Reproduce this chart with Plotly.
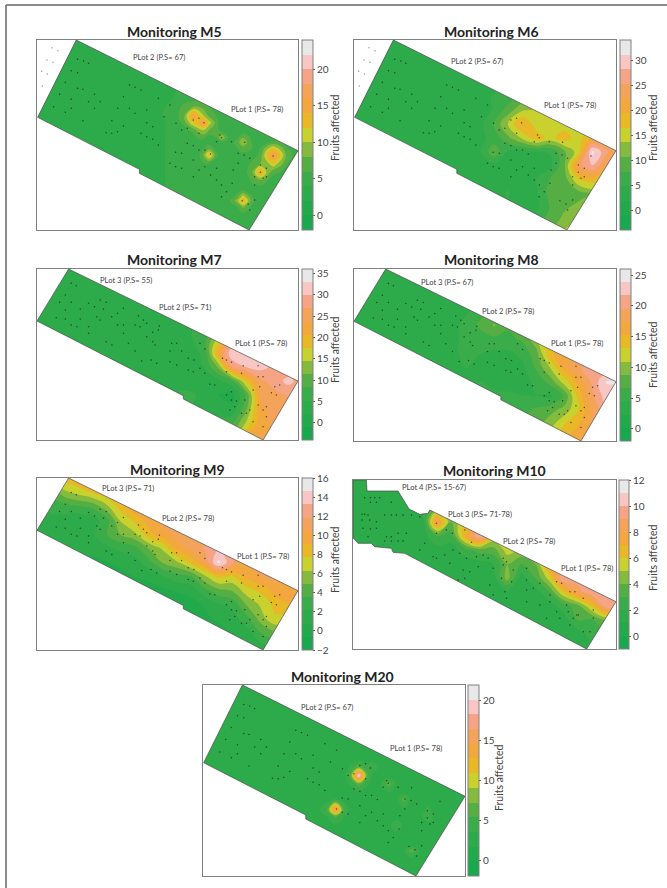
import plotly.graph_objects as go

BAND_COLORS = ["#18a84e","#22a94c","#2dab4b","#3aac4a","#55ae43","#84ba3d","#c9d12f",
               "#e9b826","#f2a83e","#f4a35a","#f5a585","#f8c6c3","#e8e8e8"]

# field outlines
A_OUT_X = [228,895,748,418,418,112,228]
A_OUT_Y = [120,452,690,520,508,352,120]
B_OUT_X = [205,895,790,550,550,110,205]
B_OUT_Y = [72,408,585,462,452,228,72]
C_OUT_X = [70,110,112,205,238,270,295,300,858,770,225,190,185,135,125,85,72,70,70]
C_OUT_Y = [75,75,108,108,162,178,175,165,440,582,295,292,280,275,265,265,250,250,75]

# trees
A_TREE_X = [232,250,265,213,232,195,232,248,178,213,265,195,160,213,248,283,300,283,335,353,370,388,388,405,423,405,370,440,458,475,440,510,492,528,562,597,545,580,597,612,665,650,440,458,423,475,352,335,318,527,545,580,562,615,632,597,510,527,545,580,580,597,615,650,632,650,665,680,665,697,700,715,715,750,733,735,782,800,765,782,765,800,727,745,765,820,790,695,660,750]
A_TREE_Y = [178,183,190,212,218,247,265,268,283,298,305,337,320,325,362,325,305,283,362,325,290,325,255,262,270,340,378,368,380,295,330,315,350,370,385,400,390,360,355,368,413,425,410,418,400,435,395,400,398,457,460,437,430,450,462,450,490,500,505,480,530,510,500,505,525,540,555,575,590,550,510,490,460,475,465,427,495,505,530,517,555,530,602,612,600,468,535,425,405,630]
A_FAINT_X = [155,173,140,158,124,141,126]
A_FAINT_Y = [143,152,180,187,214,222,258]
B_TREE_X = [213,228,195,178,213,265,318,300,283,195,240,310,370,352,168,195,240,213,230,265,265,290,300,335,352,370,405,420,415,430,440,478,370,318,335,440,458,475,385,405,458,465,515,530,510,545,600,615,565,582,510,530,425,453,470,600,565,580,615,668,680,695,680,730,775,725,775,790,840,825,815,830,780,760,645,630,695,680,695,710,735,705,690,750,725,740,775,790,800,800,790,760]
B_TREE_Y = [115,122,150,172,172,175,172,165,185,195,192,192,190,205,218,222,222,240,245,265,245,215,225,215,240,240,240,245,212,225,235,243,265,290,300,275,262,255,295,318,290,300,295,295,318,318,295,312,340,345,350,360,348,345,355,370,375,380,385,340,345,352,380,362,362,385,395,395,420,425,443,450,425,435,420,418,440,450,465,468,465,485,495,495,505,505,480,495,485,515,545,530]
C_TREE_X = [105,122,135,150,122,140,185,97,105,115,165,185,200,220,245,270,97,120,140,100,122,140,115,170,185,205,230,165,185,205,220,320,320,285,270,350,368,405,425,370,390,310,320,410,440,460,475,520,530,520,550,400,420,445,490,480,515,525,545,590,590,590,610,590,630,680,695,720,735,660,660,680,710,715,760,790,740,730,745,690,720,760,780,790,630,650,490,530,405,385,360,345]
C_TREE_Y = [128,128,128,128,142,142,142,178,178,180,180,180,180,180,180,185,195,195,200,220,222,220,245,245,245,235,235,258,258,258,258,205,235,265,285,225,235,225,262,285,295,305,310,310,305,300,310,310,320,330,345,345,350,335,340,390,370,410,380,340,375,405,400,440,385,380,385,410,410,420,440,470,450,470,430,465,480,490,480,490,510,530,530,490,450,490,420,430,370,375,325,300]

# value grids
M5_X = [110,230,350,470,520,550,580,596,612,628,650,665,690,712,730,758,782,800,820,842,865,902]
M5_Y = [120,210,290,320,348,368,390,413,427,445,465,490,517,540,570,590,602,620,650,690]
M5_Z = [
[3,3,3,3.5,4,4,4,4,4,4,4,4,4,4,4,4,4,4,4,4,4,4],
[3,3,3,3.5,4,4,4,4,4,4,4,4,4,4,4,4,4,4,4,4,4,4],
[3,3,3,3.5,4,4.5,4.5,4.5,4.5,4.5,4.5,4.5,4.5,4.5,4.5,4.5,4.5,4.5,4.5,4.5,4.5,4.5],
[3,3,3,3.5,4.5,6.5,8,8,7,6,4.5,4.5,4.5,4.5,4.5,4.5,4.5,4.5,4.5,4.5,4.5,4.5],
[3,3,3,3.5,5,7,16,13,10,7.5,6,4.5,4.5,4.5,4.5,4.5,4.5,4.5,4.5,4.5,4.5,4.5],
[3,3,3,3.5,4.5,6.5,12,14,17,11,7,4.5,4.5,4.5,4.5,4.5,4.5,4.5,4.5,4.5,4.5,4.5],
[3,3,3,3.5,4.5,5,7,9,10,8,6.5,5,4.5,4.5,4.5,4.5,4.5,4.5,4.5,4.5,4.5,4.5],
[3,3,3,3.5,4.5,4.5,5,6.5,6.5,5,6,10,5,5.5,8,5.5,4.5,4.5,4.5,4.5,4.5,4.5],
[3,3,3,3.5,4.5,4.5,4.5,5,5,5,4.5,5.5,4.5,7,10,5.5,5,5,6.5,6,5,5],
[3,3,3,3.5,4.5,4.5,4.5,5,6,7.5,5,4.5,4.5,6,7,6,6,9,12,9,6,5],
[3,3,3,3.5,4.5,4.5,4.5,5.5,8.5,13,6.5,4.5,4.5,4.5,5.5,5,6.5,12,17,12,6.5,5],
[3,3,3,3.5,4.5,4.5,4.5,4.5,6,6,5,4.5,4.5,4.5,4.5,6.5,8,9,12,9,6,5],
[3,3,3,3.5,4.5,4.5,4.5,4.5,4.5,4.5,4.5,4.5,4.5,4.5,4.5,8,15,10,6.5,6,5,4.5],
[3,3,3,3.5,4.5,4.5,4.5,4.5,4.5,4.5,4.5,4.5,4.5,4.5,4.5,6.5,8,6.5,5,4.5,4.5,4.5],
[3,3,3,3.5,4.5,4.5,4.5,4.5,4.5,4.5,4.5,4.5,4.5,5,6,5,4.5,4.5,4.5,4.5,4.5,4.5],
[3,3,3,3.5,4.5,4.5,4.5,4.5,4.5,4.5,4.5,4.5,4.5,7,11,6,4.5,4.5,4.5,4.5,4.5,4.5],
[3,3,3,3.5,4.5,4.5,4.5,4.5,4.5,4.5,4.5,4.5,6,9,14,6.5,4.5,4.5,4.5,4.5,4.5,4.5],
[3,3,3,3.5,4.5,4.5,4.5,4.5,4.5,4.5,4.5,4.5,4.5,6,8.5,5.5,4.5,4.5,4.5,4.5,4.5,4.5],
[3,3,3,3.5,4.5,4.5,4.5,4.5,4.5,4.5,4.5,4.5,4.5,4.5,4.5,4.5,4.5,4.5,4.5,4.5,4.5,4.5],
[3,3,3,3.5,4.5,4.5,4.5,4.5,4.5,4.5,4.5,4.5,4.5,4.5,4.5,4.5,4.5,4.5,4.5,4.5,4.5,4.5],
]

M6_X = [110,152,194,236,278,320,362,404,446,488,530,572,614,656,698,740,782,824,866,908]
M6_Y = [120,162,204,246,288,330,372,414,456,498,540,582,624,666,708]
M6_Z = [
[3,3,3,3,3,3,3,3,3,3,3,3,3,3,3,3,3,3,3,3],
[3,3,3,3,3,3,3,3,3,3,3,3,3,3,3,3,3,3,3,3],
[3,3,3,3,3.5,3.5,3.5,3.5,3.5,3.5,3.5,4,4,4,4,4,4,4,4,4],
[3,3,3,3,3.5,3.5,4,4,4,4,4,5,6,6,6,6,6,6,6,6],
[3,3,3,3,4,4,4,4,4,4,5,6,8,10,10,10,10,10,10,10],
[3,3,3,3,4,4,4,4,4,4,5,9,13,14,14,14,14,14,14,14],
[3,3,3,3,3.5,3.5,4,4,4,4,8,14,20,15,15,15,15,15,15,15],
[3,3,3,3,3.5,3.5,4,4,4,4,6,10,14,18,15.5,18,15,20,20,20],
[3,3,3,3,3.5,3.5,4,4,4,4.5,10,4,4,4.5,5,10,15,32,26,20],
[3,3,3,3,3.5,3.5,3.5,3.5,3.5,4,3.5,3,3,3,4,10,24,28,22,20],
[3,3,3,3,3.5,3.5,3.5,3.5,3.5,4,4,4,3,5,8,9,16,18,15,15],
[3,3,3,3,3.5,3.5,3.5,3.5,3.5,4,4,5,3.5,4,9,10,9,11,11,11],
[3,3,3,3,3.5,3.5,3.5,3.5,3.5,4,4,4,4,4,8,10,12,13,13,13],
[3,3,3,3,3.5,3.5,3.5,3.5,3.5,4,4,4,5,7,9,12,14,14,14,14],
[3,3,3,3,3.5,3.5,3.5,3.5,3.5,4,4,5,7,10,13,15,15,15,15,15],
]

B_X = [110,152,194,236,278,320,362,404,446,488,530,572,614,656,698,740,782,824,866,908]
B_Y = [72,114,156,198,240,282,324,366,408,450,492,534,576,618]
M7_Z = [
[3.5,3.5,3.5,3.5,3.5,3.5,3.5,3.5,3.5,3.5,3.5,3.5,3.5,3.5,3.5,3.5,3.5,3.5,3.5,3.5],
[3.5,3.5,3.5,3.5,3.5,3.5,3.5,3.5,3.5,3.5,3.5,3.5,3.5,3.5,3.5,3.5,3.5,3.5,3.5,3.5],
[3.5,3.5,3.5,3.5,3.5,3.5,3.5,3.5,3.5,3.5,3.5,3.5,3.5,3.5,3.5,3.5,3.5,3.5,3.5,3.5],
[3.5,3.5,3.5,3.5,3.5,3.5,3.5,3.5,3.5,3.5,4,4.5,5,6,8,10,10,10,10,10],
[3.5,3.5,3.5,3.5,3.5,3.5,3.5,3.5,3.5,4,4.5,5,6,8,12,15,20,20,20,20],
[3.5,3.5,3.5,3.5,3.5,3.5,3.5,3.5,3.5,3.5,3.5,5,7,16,24,25,25,25,25,25],
[3.5,3.5,3.5,3.5,3.5,3.5,3.5,3.5,3.5,3.5,3.5,4,6,22,33,30,28,25,25,25],
[3.5,3.5,3.5,3.5,3.5,3.5,3.5,3.5,3.5,3.5,3.5,3,5.5,12,27,30,31,29,27,27],
[3.5,3.5,3.5,3.5,3.5,3.5,3.5,3.5,3.5,3.5,3,3,3.5,4.5,8,18,26,28,31,28],
[4,4,4,4,4,4,4,4,4,4,6,6,4,2,1,9,24,26,27,26],
[5,5,5,5,5,5,5,5,5,5,5,5,5,4,3,11,23,25,24,24],
[6,6,6,6,6,6,6,6,6,6,6,6,6,6,8,15,23,24,22,22],
[9,9,9,9,9,9,9,9,9,9,9,9,9,9,12,21,24,23,23,23],
[14,14,14,14,14,14,14,14,14,14,14,14,14,14,14,22,24,22,22,22],
]
M8_Z = [
[3.5,3.5,3.5,3.5,3.5,3.5,3.5,3.5,3.5,3.5,3.5,3.5,3.5,3.5,3.5,3.5,3.5,3.5,3.5,3.5],
[3.5,3.5,3.5,3.5,3.5,3.5,3.5,3.5,3.5,3.5,3.5,3.5,3.5,3.5,3.5,3.5,3.5,3.5,3.5,3.5],
[3.5,3.5,3.5,3.5,3.5,3.5,3.5,3.5,4,4,4,4,4,4,4,4,4,4,4,4],
[3.5,3.5,3.5,3.5,3.5,3.5,3.5,3.5,4,6,7,7,7,7,7,7,7,7,7,7],
[3.5,3.5,3.5,3.5,3.5,3.5,3.5,3.5,5.5,7,9,7,7,7,7,7,7,7,7,7],
[3.5,3.5,3.5,3.5,3.5,3.5,3.5,4,5,5.5,6,6,7,10,14,16,18,18,18,18],
[3.5,3.5,3.5,3.5,3.5,3.5,3.5,4,5,4.5,4,4,5,8,15,16,18,18,18,18],
[3.5,3.5,3.5,3.5,3.5,3.5,3.5,4,4.5,3.5,3.5,3.5,4,7,11,16,19,21,20,20],
[3.5,3.5,3.5,3.5,3.5,3.5,3.5,3.5,4,4.5,3.5,3.2,3.5,5,7.5,12,16,20,24,24],
[4,4,4,4,4,4,4,4,4,5,5,5,4.5,4.4,4,7,14,19,23,23],
[5,5,5,5,5,5,5,5,5,5,5,5.5,6,7,8,9.5,13,18,21,21],
[7,7,7,7,7,7,7,7,7,7,7,7,7,8,10,13,15,18,19,19],
[10,10,10,10,10,10,10,10,10,10,10,10,10,10,12,15,17,19,18,18],
[15,15,15,15,15,15,15,15,15,15,15,15,15,15,15,17,19,18,18,18],
]
M9_Z = [
[8.5,8.5,8.5,9,9.5,10,11,11,11,11,11,11,11,11,11,11,11,11,11,11],
[4,4,6,7,8,9,10.5,11,11,11,11,11,11,11,11,11,11,11,11,11],
[2,3,3,3.5,4,6,8.5,10.5,11,11,11,11,11,11,11,11,11,11,11,11],
[1.5,1.5,1.5,1,1.5,3,6.5,8,9.8,11,11,11,11,11,11,11,11,11,11,11],
[1,1,1,1,2,3.5,5,6,8.5,10,11,11,11,11,11,11,11,11,11,11],
[1,1,1,1,1,1.8,2.5,3,5,6.5,9.5,11,12,13,12,11,11,11,11,11],
[0.5,0.5,0.5,0.5,0.6,0.7,1,1.5,3,5,6,8,10.5,15,12,10.5,11,11,11,11],
[0.3,0.3,0.3,0.3,0.3,0.3,0.5,0.8,1,2,3,3.5,6,8,7.5,9.5,10.5,11,11,11],
[0,0,0,0,0,0,0,0,0.3,0.5,0.9,1.2,3,4.5,5,7,8,9.5,10,10.5],
[-0.2,-0.2,-0.2,-0.2,-0.2,-0.2,-0.2,-0.2,-0.2,-0.2,-0.2,0.3,0.9,2,2.5,5,6.5,8,9,9],
[-0.3,-0.3,-0.3,-0.3,-0.3,-0.3,-0.3,-0.3,-0.3,-0.3,-0.3,-0.3,0.5,1,1.5,3,5.5,7.5,7,7],
[-0.3,-0.3,-0.3,-0.3,-0.3,-0.3,-0.3,-0.3,-0.3,-0.3,-0.3,-0.3,-0.3,0.3,0.7,1.5,3.5,4.5,4.5,4.5],
[-0.3,-0.3,-0.3,-0.3,-0.3,-0.3,-0.3,-0.3,-0.3,-0.3,-0.3,-0.3,-0.3,-0.3,-0.3,0.3,1.5,2.5,2.5,2.5],
[-0.3,-0.3,-0.3,-0.3,-0.3,-0.3,-0.3,-0.3,-0.3,-0.3,-0.3,-0.3,-0.3,-0.3,-0.3,0,1,1,1,1],
]

M10_X = [70,112,154,196,238,280,322,364,406,448,490,532,574,616,658,700,742,784,826,868]
M10_Y = [75,117,159,201,243,285,327,369,411,453,495,537,579,621]
M10_Z = [
[1.5,1.5,1.5,1.5,1.5,1.5,1.5,1.5,1.5,1.5,1.5,1.5,1.5,1.5,1.5,1.5,1.5,1.5,1.5,1.5],
[1.5,1.5,1.5,1.5,1.5,1.5,1.5,1.5,1.5,1.5,1.5,1.5,1.5,1.5,1.5,1.5,1.5,1.5,1.5,1.5],
[1.5,1.5,1.5,1.5,1.5,2,4,5,5,5,5,5,5,5,5,5,5,5,5,5],
[1.5,1.5,1.5,1.5,1.5,1.5,8.5,4,6,6,6,6,6,6,6,6,6,6,6,6],
[1.5,1.5,1.5,1.5,1.5,1.5,3,2.5,7,10,6,6,6,6,6,6,6,6,6,6],
[1.5,1.5,1.5,1.5,1.5,1.5,1.5,1.5,2.5,3.5,3.5,5.5,5,6,6,6,6,6,6,6],
[1.5,1.5,1.5,1.5,1.5,1.5,1.5,1.5,1.5,1.5,2,4,3,4,7.5,8.5,8.5,8.5,8.5,8.5],
[1.5,1.5,1.5,1.5,1.5,1.5,1.5,1.5,1.5,1.5,1.5,4.5,1.5,3,5.5,10,9.5,9.5,9,9],
[1.5,1.5,1.5,1.5,1.5,1.5,1.5,1.5,1.5,1.5,1.5,1.5,1.5,1.5,3,6,8.5,9.8,10,10],
[1.5,1.5,1.5,1.5,1.5,1.5,1.5,1.5,1.5,1.5,1.5,1.5,1.5,1.5,1.5,2.5,3.5,6,9.5,10],
[1.5,1.5,1.5,1.5,1.5,1.5,1.5,1.5,1.5,1.5,1.5,1.5,1.5,1.5,1.5,1.5,3,2.8,4,4],
[1.5,1.5,1.5,1.5,1.5,1.5,1.5,1.5,1.5,1.5,1.5,1.5,1.5,1.5,1.5,1.5,1.5,2.5,3,3],
[1.5,1.5,1.5,1.5,1.5,1.5,1.5,1.5,1.5,1.5,1.5,1.5,1.5,1.5,1.5,1.5,1.5,1.5,1.5,1.5],
[1.5,1.5,1.5,1.5,1.5,1.5,1.5,1.5,1.5,1.5,1.5,1.5,1.5,1.5,1.5,1.5,1.5,1.5,1.5,1.5],
]

M20_X = [110,230,350,446,480,507,534,553,577,601,617,638,667,690,712,734,758,784,806,902]
M20_Y = [120,240,340,365,390,415,440,460,492,512,540,560,580,600,613,635,690]
M20_Z = [
[2.5,2.5,2.5,2.5,2.5,2.5,2.5,2.5,2.5,2.5,2.5,2.5,2.5,2.5,2.5,2.5,2.5,2.5,2.5,2.5],
[2.5,2.5,2.5,2.5,2.5,2.5,2.5,2.5,2.5,2.5,2.5,2.5,2.5,2.5,2.5,2.5,2.5,2.5,2.5,2.5],
[2.5,2.5,2.5,2.5,2.5,2.5,2.5,2.5,3,2.5,2.5,2.5,2.5,2.5,2.5,2.5,2.5,2.5,2.5,2.5],
[2.5,2.5,2.5,2.5,2.5,2.5,2.5,4,6.5,4,5.5,3,2.5,2.5,2.5,2.5,2.5,2.5,2.5,2.5],
[2.5,2.5,2.5,2.5,2.5,2.5,3,6.5,21,6.5,3.5,3,2.5,2.5,2.5,2.5,2.5,2.5,2.5,2.5],
[2.5,2.5,2.5,2.5,2.5,2.5,2.5,4,6.5,4,3,3,6.5,3,2.5,2.5,2.5,2.5,2.5,2.5],
[2.5,2.5,2.5,2.5,2.5,2.5,2.5,2.5,3,2.5,2.5,2.5,3.5,2.5,2.5,2.5,2.5,2.5,2.5,2.5],
[2.5,2.5,2.5,2.5,3,3.5,3,2.5,2.5,2.5,2.5,2.5,2.5,3,6.5,3,2.5,2.5,2.5,2.5],
[2.5,2.5,2.5,3,4.5,17,4.5,3,2.5,2.5,2.5,2.5,2.5,2.5,3,2.5,2.5,4,2.5,2.5],
[2.5,2.5,2.5,2.5,3.5,6,3.5,2.5,2.5,2.5,2.5,2.5,2.5,2.5,2.5,2.5,3,5,3,2.5],
[2.5,2.5,2.5,2.5,2.5,3,2.5,2.5,2.5,2.5,2.5,2.5,3,5.5,3,2.5,2.5,2.5,2.5,2.5],
[2.5,2.5,2.5,2.5,2.5,2.5,2.5,2.5,2.5,2.5,2.5,2.5,2.5,3,2.5,2.5,2.5,2.5,2.5,2.5],
[2.5,2.5,2.5,2.5,2.5,2.5,2.5,2.5,2.5,2.5,2.5,2.5,2.5,2.5,2.5,2.5,2.5,2.5,2.5,2.5],
[2.5,2.5,2.5,2.5,2.5,2.5,2.5,2.5,2.5,2.5,2.5,2.5,2.5,2.5,2.5,3.5,2.5,2.5,2.5,2.5],
[2.5,2.5,2.5,2.5,2.5,2.5,2.5,2.5,2.5,2.5,2.5,2.5,2.5,2.5,3.5,6.5,3.5,2.5,2.5,2.5],
[2.5,2.5,2.5,2.5,2.5,2.5,2.5,2.5,2.5,2.5,2.5,2.5,2.5,2.5,2.5,3.5,2.5,2.5,2.5,2.5],
[2.5,2.5,2.5,2.5,2.5,2.5,2.5,2.5,2.5,2.5,2.5,2.5,2.5,2.5,2.5,2.5,2.5,2.5,2.5,2.5],
]

TICKS_M5 = [0,5,10,15,20]
TICKS_M6 = [0,5,10,15,20,25,30]
TICKS_M7 = [0,5,10,15,20,25,30,35]
TICKS_M8 = [0,5,10,15,20,25]
TICKS_M9 = [-2,0,2,4,6,8,10,12,14,16]
TICKS_M10 = [0,2,4,6,8,10,12]
TICKS_M20 = [0,5,10,15,20]

GEOMS = {
    "A": dict(ox=A_OUT_X, oy=A_OUT_Y, tx=A_TREE_X, ty=A_TREE_Y, xr=[110,895], yr=[690,120]),
    "B": dict(ox=B_OUT_X, oy=B_OUT_Y, tx=B_TREE_X, ty=B_TREE_Y, xr=[110,895], yr=[585,72]),
    "C": dict(ox=C_OUT_X, oy=C_OUT_Y, tx=C_TREE_X, ty=C_TREE_Y, xr=[70,858], yr=[582,75]),
}

PANELS = [
 dict(title="Monitoring M5", tc=(174,31), box=(37,40,298,230), bar=(302,313), g="A", x=M5_X, y=M5_Y, z=M5_Z, zr=(-2,24), ticks=TICKS_M5,
      lab=(335,128), notes=[("PLot 2 (P.S= 67)",159,57),("PLot 1 (P.S= 78)",257,109)]),
 dict(title="Monitoring M6", tc=(491,31), box=(354,40,616,230), bar=(620,631), g="A", x=M6_X, y=M6_Y, z=M6_Z, zr=(-4,34), ticks=TICKS_M6,
      lab=(653,128), notes=[("PLot 2 (P.S= 67)",477,61),("PLot 1 (P.S= 78)",570,105)]),
 dict(title="Monitoring M7", tc=(174,259), box=(37,269,298,440), bar=(302,313), g="B", x=B_X, y=B_Y, z=M7_Z, zr=(-4,36), ticks=TICKS_M7,
      lab=(335,350), notes=[("PLot 3 (P.S= 55)",126,280),("PLot 2 (P.S= 71)",185,307),("PLot 1 (P.S= 78)",261,343)]),
 dict(title="Monitoring M8", tc=(491,259), box=(354,269,616,441), bar=(620,631), g="B", x=B_X, y=B_Y, z=M8_Z, zr=(-2,26), ticks=TICKS_M8,
      lab=(653,355), notes=[("PLot 3 (P.S= 67)",447,282),("PLot 2 (P.S= 78)",508,311),("PLot 1 (P.S= 78)",577,343)]),
 dict(title="Monitoring M9", tc=(177,469), box=(37,478,298,650), bar=(302,313), g="B", x=B_X, y=B_Y, z=M9_Z, zr=(-2,16), ticks=TICKS_M9,
      lab=(335,560), notes=[("PLot 3 (P.S= 71)",128,488),("PLot 2 (P.S= 78)",188,518),("PLot 1 (P.S= 78)",263,556)]),
 dict(title="Monitoring M10", tc=(494,471), box=(353,480,616,649), bar=(619,629), g="C", x=M10_X, y=M10_Y, z=M10_Z, zr=(-1,12), ticks=TICKS_M10,
      lab=(653,558), notes=[("PLot 4 (P.S= 15-67)",434,487),("PLot 3 (P.S= 71-78)",480,514),("PLot 2 (P.S= 78)",529,541),("PLot 1 (P.S= 78)",587,568)]),
 dict(title="Monitoring M20", tc=(342,676), box=(203,685,465,876), bar=(468,479), g="A", x=M20_X, y=M20_Y, z=M20_Z, zr=(-2,22), ticks=TICKS_M20,
      lab=(499,778), notes=[("PLot 2 (P.S= 67)",327,707),("PLot 1 (P.S= 78)",416,748)]),
]

W, H = 667, 888
FONT = "Lato"
n = len(BAND_COLORS)
cscale = []
for k, c in enumerate(BAND_COLORS):
    cscale += [[k/n, c], [(k+1)/n, c]]

def px(x): return x / W
def py(y): return 1 - y / H

fig = go.Figure()
annotations = []
layout = {}
for idx, p in enumerate(PANELS, start=1):
    g = GEOMS[p["g"]]
    xa, ya = f"x{idx}", f"y{idx}"
    xk, yk = f"xaxis{idx}", f"yaxis{idx}"
    l, t, r, b = p["box"]
    layout[xk] = dict(domain=[px(l), px(r)], range=g["xr"], anchor=ya, showgrid=False, zeroline=False,
                      showticklabels=False, ticks="", showline=True, mirror=True, linecolor="#808080", linewidth=1)
    layout[yk] = dict(domain=[py(b), py(t)], range=g["yr"], anchor=xa, showgrid=False, zeroline=False,
                      showticklabels=False, ticks="", showline=True, mirror=True, linecolor="#808080", linewidth=1)
    zmin, zmax = p["zr"]
    fig.add_trace(go.Contour(
        x=p["x"], y=p["y"], z=p["z"], xaxis=xa, yaxis=ya, zmin=zmin, zmax=zmax, colorscale=cscale,
        autocontour=False, contours=dict(start=zmin, end=zmax, size=(zmax-zmin)/n, coloring="fill", showlines=False),
        line=dict(width=0, smoothing=1.1), hoverinfo="skip",
        colorbar=dict(x=px(p["bar"][0]), xanchor="left", xpad=0, ypad=0, y=py(t), yanchor="top",
                      lenmode="pixels", len=b-t, thicknessmode="pixels", thickness=p["bar"][1]-p["bar"][0],
                      outlinecolor="#808080", outlinewidth=1, tickmode="array", tickvals=p["ticks"],
                      ticks="outside", ticklen=2, tickcolor="#555", tickwidth=1,
                      tickfont=dict(family=FONT, size=10, color="#444"))))
    xr, yr = g["xr"], g["yr"]
    mask_x = [xr[0], xr[1], xr[1], xr[0], xr[0]] + g["ox"][::-1] + [xr[0]]
    mask_y = [yr[1], yr[1], yr[0], yr[0], yr[1]] + g["oy"][::-1] + [yr[1]]
    fig.add_trace(go.Scatter(x=mask_x, y=mask_y, xaxis=xa, yaxis=ya, mode="lines", fill="toself", fillcolor="white",
                             line=dict(width=0), hoverinfo="skip", showlegend=False))
    fig.add_trace(go.Scatter(x=g["ox"], y=g["oy"], xaxis=xa, yaxis=ya, mode="lines",
                             line=dict(color="#4a4a4a", width=0.7), hoverinfo="skip", showlegend=False))
    fig.add_trace(go.Scatter(x=g["tx"], y=g["ty"], xaxis=xa, yaxis=ya, mode="markers",
                             marker=dict(color="#1a1a1a", size=1.5, opacity=0.7), hoverinfo="skip", showlegend=False))
    if p["g"] == "A" and idx < 7:
        fig.add_trace(go.Scatter(x=A_FAINT_X, y=A_FAINT_Y, xaxis=xa, yaxis=ya, mode="markers",
                                 marker=dict(color="#999", size=1.5), hoverinfo="skip", showlegend=False))
    annotations.append(dict(text=p["title"], x=px(p["tc"][0]), y=py(p["tc"][1]), xref="paper", yref="paper",
                            xanchor="center", yanchor="middle",
                            showarrow=False, font=dict(family=FONT, size=14, color="#222", weight="bold")))
    annotations.append(dict(text="Fruits affected", x=px(p["lab"][0]), y=py(p["lab"][1]), xref="paper", yref="paper",
                            xanchor="center", yanchor="middle",
                            showarrow=False, textangle=-90, font=dict(family=FONT, size=10.5, color="#444")))
    for txt, nx, ny in p["notes"]:
        annotations.append(dict(text=txt, x=px(nx), y=py(ny), xref="paper", yref="paper",
                                xanchor="center", yanchor="middle",
                                showarrow=False, font=dict(family=FONT, size=7.6, color="#444")))

fig.update_layout(width=W, height=H, margin=dict(l=0, r=0, t=0, b=0), paper_bgcolor="white", plot_bgcolor="white",
                  showlegend=False, annotations=annotations,
                  shapes=[dict(type="line", xref="paper", yref="paper", x0=px(6), x1=px(6), y0=py(5), y1=0, line=dict(color="#666", width=1.5)),
                          dict(type="line", xref="paper", yref="paper", x0=px(6), x1=1, y0=py(5), y1=py(5), line=dict(color="#666", width=1.5))],
                  **layout)
fig.write_html("out.html", post_script="document.body.style.margin='0';", config=dict(displayModeBar=False))
